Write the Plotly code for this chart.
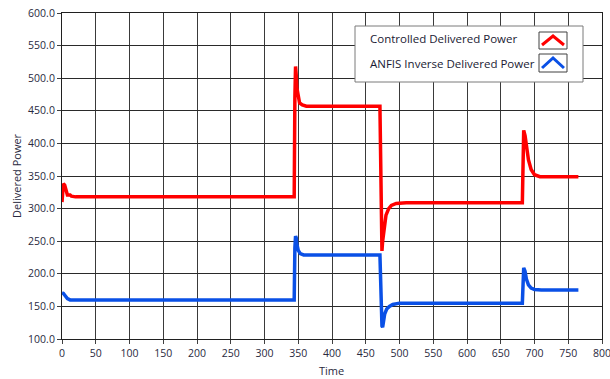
import plotly.graph_objects as go

# ---- data ----
red_t = [0, 1, 2, 4, 6, 8, 12, 14, 20, 344, 345, 346, 347, 348, 350, 352, 356, 362, 471,
         472, 473, 474, 475, 477, 480, 484, 488, 495, 510, 682, 683, 684, 686, 688, 691,
         695, 700, 708, 765]
red_v = [310, 330, 338, 336, 325, 321, 321, 319, 318, 318, 470, 518, 505, 485, 468, 462,
         459, 457, 457, 380, 300, 235, 250, 270, 290, 300, 305, 308, 309, 309, 370, 420,
         412, 395, 375, 360, 352, 349, 349]

blue_t = [0, 2, 5, 8, 12, 344, 345, 346, 347, 348, 350, 353, 358, 471, 472, 473, 474, 475,
          476, 478, 481, 485, 490, 500, 682, 683, 684, 686, 688, 691, 695, 700, 710, 765]
blue_v = [171, 170, 166, 162, 160, 160, 240, 258, 255, 245, 236, 231, 229, 229, 190, 140,
          120, 118, 125, 138, 146, 150, 153, 155, 155, 200, 209, 204, 192, 183, 178, 176,
          175, 175]

series_names = ["Controlled Delivered Power", "ANFIS Inverse Delivered Power"]
x_ticks = list(range(0, 801, 50))
y_ticks = list(range(100, 601, 50))

RED = "#ff0000"
BLUE = "#0a50e6"
FONT = "Open Sans"
TXT = "#2a2a40"

fig = go.Figure()
fig.add_trace(go.Scatter(x=red_t, y=red_v, mode="lines", name=series_names[0],
                         line=dict(color=RED, width=3.5), showlegend=False))
fig.add_trace(go.Scatter(x=blue_t, y=blue_v, mode="lines", name=series_names[1],
                         line=dict(color=BLUE, width=3.5), showlegend=False))

# page-pixel geometry (body margin removed in post_script)
L, R, T, B = 62, 602, 13, 339
W, H = 610, 379


def px(x):
    return (x - L) / (R - L)


def py(y):
    return (B - y) / (B - T)


shapes = []
annotations = []
# legend box
shapes.append(dict(type="rect", xref="paper", yref="paper",
                   x0=px(355), x1=px(583), y0=py(82), y1=py(26),
                   line=dict(color="#7a7a7a", width=1), fillcolor="white", layer="above"))
rows = [(39, 32, 49, RED), (63, 54, 72, BLUE)]
for name, (ty, by0, by1, col) in zip(series_names, rows):
    annotations.append(dict(text=name, xref="paper", yref="paper", x=px(368), y=py(ty),
                            xanchor="left", yanchor="middle", showarrow=False,
                            font=dict(family=FONT, size=11.5, color="#1a1a33")))
    shapes.append(dict(type="rect", xref="paper", yref="paper",
                       x0=px(539), x1=px(567), y0=py(by1), y1=py(by0),
                       line=dict(color="#404040", width=1), fillcolor="white", layer="above"))
    path = "M {:.4f} {:.4f} L {:.4f} {:.4f} L {:.4f} {:.4f}".format(
        px(542), py(by1 - 4), px(553), py(by0 + 4), px(564), py(by1 - 4))
    shapes.append(dict(type="path", xref="paper", yref="paper", path=path,
                       line=dict(color=col, width=3), layer="above"))

# axis titles
annotations.append(dict(text="Time", xref="paper", yref="paper", x=px(331), y=py(370),
                        xanchor="center", yanchor="middle", showarrow=False,
                        font=dict(family=FONT, size=11, color=TXT)))
annotations.append(dict(text="Delivered Power", xref="paper", yref="paper", x=px(16),
                        y=py(176), xanchor="center", yanchor="middle", showarrow=False,
                        textangle=-90, font=dict(family=FONT, size=11, color=TXT)))

fig.update_layout(
    width=W, height=H,
    margin=dict(l=L, r=W - R, t=T, b=H - B, autoexpand=False),
    paper_bgcolor="white", plot_bgcolor="white",
    font=dict(family=FONT, size=11, color=TXT),
    shapes=shapes, annotations=annotations,
)
fig.update_xaxes(range=[0, 800], tickvals=x_ticks, showgrid=True, gridcolor="#3a3a3a",
                 gridwidth=1, showline=True, linecolor="#202020", linewidth=1, mirror=True,
                 ticks="outside", ticklen=4, tickcolor="#404040", zeroline=False,
                 automargin=False, ticklabeloverflow="allow",
                 tickfont=dict(family=FONT, size=10.5, color=TXT))
fig.update_yaxes(range=[100, 600], tickvals=y_ticks, tickformat=".1f", showgrid=True,
                 gridcolor="#2a2a2a", gridwidth=1, showline=True, linecolor="#202020",
                 linewidth=1, mirror=True, ticks="outside", ticklen=4, tickcolor="#404040",
                 zeroline=False, automargin=False, ticklabeloverflow="allow",
                 tickfont=dict(family=FONT, size=10.5, color=TXT))

fig.write_html("out.html", config={"displayModeBar": False},
               post_script="document.body.style.margin='0';document.body.style.overflow='hidden';")
